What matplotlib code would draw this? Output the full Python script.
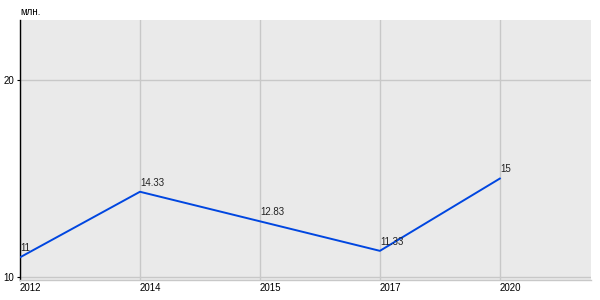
import matplotlib
matplotlib.use("Agg")
import matplotlib.pyplot as plt

# Data
years = ["2012", "2014", "2015", "2017", "2020"]
values = [11, 14.33, 12.83, 11.33, 15]
labels = ["11", "14.33", "12.83", "11.33", "15"]

plt.rcParams["font.family"] = ["Liberation Sans", "DejaVu Sans"]

fig = plt.figure(figsize=(6, 3), dpi=100)
ax = fig.add_axes([20 / 600, 20 / 300, 571 / 600, 260 / 300])
ax.set_facecolor("#eaeaea")

x = list(range(len(years)))
ax.plot(x, values, color="#0046e0", linewidth=1.4, zorder=3)
for xi, v, t in zip(x, values, labels):
    ax.annotate(t, (xi, v), xytext=(0, 3), textcoords="offset points",
                ha="left", va="bottom", fontsize=7, color="#222222", zorder=4)

ax.set_xlim(0, 4.76)
ax.set_ylim(9.85, 23.05)
ax.set_xticks(x)
ax.set_xticklabels(years, ha="left", fontsize=7)
ax.set_yticks([10, 20])
ax.set_yticklabels(["10", "20"], fontsize=7)
ax.tick_params(axis="x", length=0, pad=2.5)
ax.tick_params(axis="y", length=2.5, width=0.8, pad=1.5)

ax.grid(True, color="#c8c8c8", linewidth=1)
ax.set_axisbelow(True)
for s in ["top", "right"]:
    ax.spines[s].set_visible(False)
ax.spines["left"].set_color("black")
ax.spines["left"].set_linewidth(1)
ax.spines["bottom"].set_color("#c8c8c8")
ax.spines["bottom"].set_linewidth(1)

fig.text(20 / 600, 1 - 12 / 300, "млн.", fontsize=7, ha="left", va="center")

fig.savefig("out.png", dpi=100)
